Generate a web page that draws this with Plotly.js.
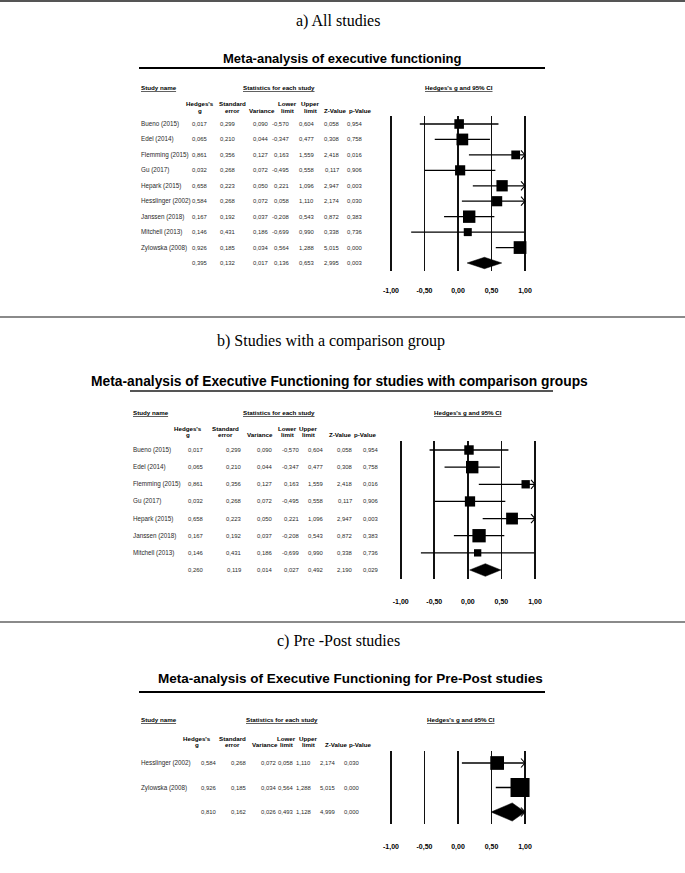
<!DOCTYPE html>
<html><head><meta charset="utf-8">
<script src="https://cdn.plot.ly/plotly-3.0.1.min.js"></script>
<style>html,body{margin:0;padding:0;background:#fff}#chart{width:685px;height:873px}</style>
</head><body><div id="chart"></div>
<script>
// ---------- DATA (last element of each numeric array = pooled summary row) ----------
// a) All studies
const studiesA = ["Bueno (2015)", "Edel (2014)", "Flemming (2015)", "Gu (2017)", "Hepark (2015)", "Hesslinger (2002)", "Janssen (2018)", "Mitchell (2013)", "Zylowska (2008)"];
const gA    = [0.017, 0.065, 0.861, 0.032, 0.658, 0.584, 0.167, 0.146, 0.926, 0.395];
const seA   = [0.299, 0.210, 0.356, 0.268, 0.223, 0.268, 0.192, 0.431, 0.185, 0.132];
const varA  = [0.090, 0.044, 0.127, 0.072, 0.050, 0.072, 0.037, 0.186, 0.034, 0.017];
const lowA  = [-0.570, -0.347, 0.163, -0.495, 0.221, 0.058, -0.208, -0.699, 0.564, 0.136];
const upA   = [0.604, 0.477, 1.559, 0.558, 1.096, 1.110, 0.543, 0.990, 1.288, 0.653];
const zA    = [0.058, 0.308, 2.418, 0.117, 2.947, 2.174, 0.872, 0.338, 5.015, 2.995];
const pA    = [0.954, 0.758, 0.016, 0.906, 0.003, 0.030, 0.383, 0.736, 0.000, 0.003];

// b) Studies with a comparison group
const studiesB = ["Bueno (2015)", "Edel (2014)", "Flemming (2015)", "Gu (2017)", "Hepark (2015)", "Janssen (2018)", "Mitchell (2013)"];
const gB    = [0.017, 0.065, 0.861, 0.032, 0.658, 0.167, 0.146, 0.260];
const seB   = [0.299, 0.210, 0.356, 0.268, 0.223, 0.192, 0.431, 0.119];
const varB  = [0.090, 0.044, 0.127, 0.072, 0.050, 0.037, 0.186, 0.014];
const lowB  = [-0.570, -0.347, 0.163, -0.495, 0.221, -0.208, -0.699, 0.027];
const upB   = [0.604, 0.477, 1.559, 0.558, 1.096, 0.543, 0.990, 0.492];
const zB    = [0.058, 0.308, 2.418, 0.117, 2.947, 0.872, 0.338, 2.190];
const pB    = [0.954, 0.758, 0.016, 0.906, 0.003, 0.383, 0.736, 0.029];

// c) Pre-Post studies
const studiesC = ["Hesslinger (2002)", "Zylowska (2008)"];
const gC    = [0.584, 0.926, 0.810];
const seC   = [0.268, 0.185, 0.162];
const varC  = [0.072, 0.034, 0.026];
const lowC  = [0.058, 0.564, 0.493];
const upC   = [1.110, 1.288, 1.128];
const zC    = [2.174, 5.015, 4.999];
const pC    = [0.030, 0.000, 0.000];

// texts
const panelLabels = ["a) All studies", "b) Studies with a comparison group", "c) Pre -Post studies"];
const panelTitles = ["Meta-analysis of executive functioning",
                     "Meta-analysis of Executive Functioning for studies with comparison groups",
                     "Meta-analysis of Executive Functioning for Pre-Post studies"];
const colHeadTop = ["Hedges's", "Standard", "", "Lower", "Upper", "", ""];
const colHeadBot = ["g", "error", "Variance", "limit", "limit", "Z-Value", "p-Value"];
const tickVals = [-1, -0.5, 0, 0.5, 1];
const tickText = ["-1,00", "-0,50", "0,00", "0,50", "1,00"];

// ---------- LAYOUT / STYLE (pixel positions) ----------
const W = 685, H = 873;
const panels = [
  {names: studiesA, cols: [gA, seA, varA, lowA, upA, zA, pA], g: gA, v: varA, lo: lowA, hi: upA,
   rows: [124, 263], xpx: [391, 525], labelX: 338, labelY: 21, titleX: 342, titleY: 59, titleSize: 13,
   ulY: 68, ulX: [139, 545], ulColor: '#000', headY: 88, nameX: 139, statX: 279, ciX: 459,
   hdrY: [103, 110], hdrX: [200, 232, 262, 287, 310, 335, 360], colR: [209, 237, 270, 291, 316, 341, 364],
   standoff: 14, sz: [4.5, 1.52]},
  {names: studiesB, cols: [gB, seB, varB, lowB, upB, zB, pB], g: gB, v: varB, lo: lowB, hi: upB,
   rows: [450, 570], xpx: [400.7, 535], labelX: 331, labelY: 341, titleX: 339, titleY: 381, titleSize: 13.8,
   ulY: 391, ulX: [130, 553], ulColor: '#555', headY: 412, nameX: 131, statX: 279, ciX: 468,
   hdrY: [428, 434], hdrX: [188, 226, 260, 287, 308, 340, 366], colR: [205, 243, 274, 301, 325, 354, 380],
   standoff: 17, sz: [2.5, 2.08]},
  {names: studiesC, cols: [gC, seC, varC, lowC, upC, zC, pC], g: gC, v: varC, lo: lowC, hi: upC,
   rows: [763, 812], xpx: [391, 525], labelX: 338, labelY: 641, titleX: 350, titleY: 678, titleSize: 13.5,
   ulY: 692, ulX: [139, 545], ulColor: '#000', headY: 719, nameX: 139, statX: 282, ciX: 461,
   hdrY: [738, 744], hdrX: [197, 232, 265, 286, 308, 336, 360], colR: [218, 248, 278, 295, 313, 337, 361],
   standoff: 17, sz: [2, 3.14]}
];
const separators = [{y: 1, c: '#555'}, {y: 317, c: '#8a8a8a'}, {y: 622, c: '#8a8a8a'}];

const SANS = "Liberation Sans, Arial, sans-serif";
const SERIF = "Liberation Serif, Times New Roman, serif";
const px2x = p => p / W;
const px2y = p => 1 - p / H;
const fmt = v => v.toFixed(3).replace('.', ',');
const XMIN = -1, XMAX = 1, XRANGE = [-1.2, 1.2];

const traces = [];
const layout = {
  width: W, height: H, margin: {l: 0, r: 0, t: 0, b: 0},
  paper_bgcolor: '#fff', plot_bgcolor: 'rgba(0,0,0,0)', showlegend: false,
  annotations: [], shapes: []
};

separators.forEach(s => layout.shapes.push({type: 'line', xref: 'paper', yref: 'paper',
  x0: 0, x1: 1, y0: px2y(s.y), y1: px2y(s.y), line: {color: s.c, width: 2}}));

panels.forEach((P, k) => {
  const xa = k === 0 ? 'x' : 'x' + (k + 1);
  const ya = k === 0 ? 'y' : 'y' + (k + 1);
  const n = P.names.length;          // number of studies; summary row index = n
  const nRows = n + 1;
  const spacing = (P.rows[1] - P.rows[0]) / n;
  const unitPx = (P.xpx[1] - P.xpx[0]) / (XMAX - XMIN);
  const zeroPx = P.xpx[0] - XMIN * unitPx;
  const xd0 = zeroPx + XRANGE[0] * unitPx, xd1 = zeroPx + XRANGE[1] * unitPx;
  const yTop = P.rows[0] - spacing / 2, yBot = P.rows[1] + spacing / 2;

  layout['xaxis' + (k === 0 ? '' : k + 1)] = {
    domain: [px2x(xd0), px2x(xd1)], range: XRANGE, anchor: ya, fixedrange: true,
    showgrid: true, gridcolor: '#111', gridwidth: 1.6, zeroline: false, showline: false,
    tickmode: 'array', tickvals: tickVals, ticktext: tickText.map(t => '<b>' + t + '</b>'),
    ticks: '', ticklabelstandoff: P.standoff,
    tickfont: {family: SANS, size: 7, color: '#000'}
  };
  layout['yaxis' + (k === 0 ? '' : k + 1)] = {
    domain: [px2y(yBot), px2y(yTop)], range: [nRows - 0.5, -0.5], anchor: xa, fixedrange: true,
    showgrid: false, zeroline: false, showline: false, showticklabels: false, ticks: ''
  };

  // CI lines (studies only)
  const lx = [], ly = [];
  for (let i = 0; i < n; i++) {
    lx.push(Math.max(P.lo[i], XMIN), Math.min(P.hi[i], XMAX), null);
    ly.push(i, i, null);
  }
  traces.push({type: 'scatter', mode: 'lines', x: lx, y: ly, xaxis: xa, yaxis: ya,
    line: {color: '#000', width: 1.3}, hoverinfo: 'skip'});

  // arrow chevrons where CI exceeds the axis
  const cx = [], cy = [];
  const dy = 4.5 / spacing, dx = 4 / unitPx;
  for (let i = 0; i < nRows; i++) {
    if (P.hi[i] > XMAX) { cx.push(XMAX - dx, XMAX, XMAX - dx, null); cy.push(i - dy, i, i + dy, null); }
    if (P.lo[i] < XMIN) { cx.push(XMIN + dx, XMIN, XMIN + dx, null); cy.push(i - dy, i, i + dy, null); }
  }
  if (cx.length) traces.push({type: 'scatter', mode: 'lines', x: cx, y: cy, xaxis: xa, yaxis: ya,
    line: {color: '#000', width: 1.1}, hoverinfo: 'skip'});

  // squares, area by inverse-variance weight
  const sizes = [];
  for (let i = 0; i < n; i++) sizes.push(P.sz[0] + P.sz[1] * Math.sqrt(1 / P.v[i]));
  traces.push({type: 'scatter', mode: 'markers', x: P.g.slice(0, n), y: P.names.map((_, i) => i),
    xaxis: xa, yaxis: ya, cliponaxis: false,
    marker: {symbol: 'square', color: '#000', opacity: 1, size: sizes, line: {width: 0}}, hoverinfo: 'skip'});

  // summary diamond
  const h = 0.37;
  const dLo = Math.max(P.lo[n], XMIN), dHi = Math.min(P.hi[n], XMAX);
  traces.push({type: 'scatter', mode: 'lines', fill: 'toself', fillcolor: '#000',
    x: [dLo, P.g[n], dHi, P.g[n], dLo], y: [n, n - h, n, n + h, n],
    xaxis: xa, yaxis: ya, line: {color: '#000', width: 0.5}, hoverinfo: 'skip'});

  // titles
  layout.annotations.push({xref: 'paper', yref: 'paper', x: px2x(P.labelX), y: px2y(P.labelY),
    xanchor: 'center', yanchor: 'middle', showarrow: false, text: panelLabels[k],
    font: {family: SERIF, size: 16, color: '#000'}});
  layout.annotations.push({xref: 'paper', yref: 'paper', x: px2x(P.titleX), y: px2y(P.titleY),
    xanchor: 'center', yanchor: 'middle', showarrow: false, text: '<b>' + panelTitles[k] + '</b>',
    font: {family: SANS, size: P.titleSize, color: '#000'}});
  layout.shapes.push({type: 'line', xref: 'paper', yref: 'paper', x0: px2x(P.ulX[0]), x1: px2x(P.ulX[1]),
    y0: px2y(P.ulY), y1: px2y(P.ulY), line: {color: P.ulColor, width: 2.2}});

  // section headers
  const hfont = {family: SANS, size: 6.2, color: '#000'};
  [[P.nameX, 'left', 'Study name'], [P.statX, 'center', 'Statistics for each study'],
   [P.ciX, 'center', "Hedges's g and 95% CI"]].forEach(([x, anc, t]) =>
    layout.annotations.push({xref: 'paper', yref: 'paper', x: px2x(x), y: px2y(P.headY),
      xanchor: anc, yanchor: 'middle', showarrow: false, text: '<b><u>' + t + '</u></b>', font: hfont}));
  for (let c = 0; c < colHeadBot.length; c++) {
    if (colHeadTop[c]) layout.annotations.push({xref: 'paper', yref: 'paper', x: px2x(P.hdrX[c]),
      y: px2y(P.hdrY[0]), xanchor: 'center', yanchor: 'middle', showarrow: false,
      text: '<b>' + colHeadTop[c] + '</b>', font: hfont});
    layout.annotations.push({xref: 'paper', yref: 'paper', x: px2x(P.hdrX[c]),
      y: px2y(P.hdrY[1]), xanchor: 'center', yanchor: 'middle', showarrow: false,
      text: '<b>' + colHeadBot[c] + '</b>', font: hfont});
  }

  // table body
  const tfont = {family: SANS, size: 6.3, color: '#2a2a2a'};
  const nfont = {family: SANS, size: 5.9, color: '#2a2a2a'};
  for (let i = 0; i < n; i++) layout.annotations.push({xref: 'paper', yref: ya, x: px2x(P.nameX), y: i,
    xanchor: 'left', yanchor: 'middle', showarrow: false, text: P.names[i], font: tfont});
  for (let c = 0; c < P.cols.length; c++) {
    for (let i = 0; i < nRows; i++) layout.annotations.push({xref: 'paper', yref: ya, x: px2x(P.colR[c]), y: i,
      xanchor: 'right', yanchor: 'middle', showarrow: false, text: fmt(P.cols[c][i]), font: nfont});
  }
});

Plotly.newPlot('chart', traces, layout, {staticPlot: true, displayModeBar: false});
</script>
</body></html>
